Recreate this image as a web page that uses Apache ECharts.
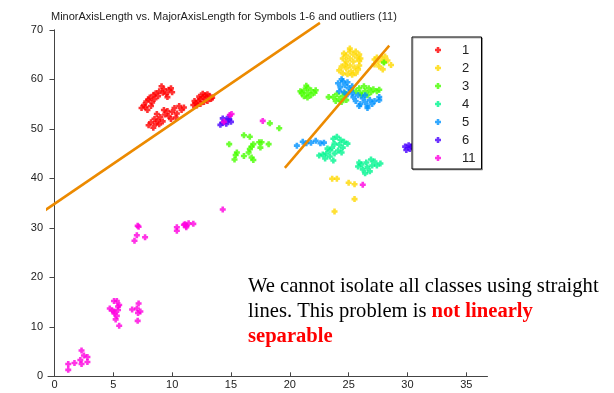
<!DOCTYPE html>
<html>
<head>
<meta charset="utf-8">
<script src="https://cdn.jsdelivr.net/npm/echarts@6/dist/echarts.min.js"></script>
<style>
  html, body { margin: 0; padding: 0; background: #fff; }
  #chart { width: 614px; height: 393px; }
</style>
</head>
<body>
<div id="chart"></div>
<script>
// class labels and their colours (hsv-like map)
var classNames = ["1", "2", "3", "4", "5", "6", "11"];
var classColors = ["#ff0000", "#ffd800", "#49ff00", "#00f590", "#0092ff", "#4900ff", "#ff00e0"];

// [MajorAxisLength, MinorAxisLength]
var class1 = [
  [7.4, 54.2], [7.6, 54.8], [7.8, 55.5], [7.7, 54.4], [8.0, 55.9], [8.1, 56.3], [8.3, 55.3], [8.4, 56.8],
  [8.6, 57.2], [8.5, 56.0], [8.8, 56.6], [8.9, 57.6], [9.1, 58.6], [9.2, 57.3], [9.3, 58.0], [9.5, 57.1],
  [9.7, 57.9], [9.9, 58.2], [10.0, 57.4], [9.6, 56.4], [8.2, 54.6], [7.9, 53.8],
  [8.0, 50.7], [8.2, 51.3], [8.4, 50.2], [8.6, 51.0], [8.5, 52.0], [8.8, 51.7], [9.0, 52.4], [9.2, 51.5],
  [9.4, 52.9], [9.6, 53.6], [9.7, 52.6], [10.0, 53.4], [10.2, 54.2], [10.4, 53.1], [10.6, 54.6], [10.8, 53.8],
  [11.0, 54.3], [10.3, 52.3], [9.9, 52.0], [8.9, 50.9], [8.7, 53.0], [9.3, 53.8],
  [11.8, 54.8], [12.0, 55.2], [12.2, 55.6], [12.4, 56.0], [12.6, 56.4], [12.8, 56.8], [13.0, 57.0], [13.2, 56.6],
  [13.3, 56.0], [13.0, 55.6], [12.7, 55.4], [12.4, 55.0], [12.1, 54.7], [12.6, 57.1], [12.9, 56.2], [12.3, 56.5],
  [13.4, 56.3], [11.9, 55.6]
];
var class2 = [
  [24.5, 64.2], [24.8, 63.6], [24.8, 64.8], [25.1, 65.6], [25.1, 64.2], [25.4, 65.0], [25.4, 63.6], [25.7, 64.4],
  [25.9, 65.0], [25.9, 63.7], [25.1, 66.2], [24.6, 65.2], [26.0, 64.2], [25.6, 65.6],
  [24.2, 61.8], [24.4, 62.6], [24.5, 61.2], [24.8, 62.2], [24.9, 61.0], [25.1, 62.8], [25.2, 61.6], [25.5, 62.4],
  [25.6, 61.2], [25.8, 62.0], [25.9, 62.8], [24.7, 63.0], [25.3, 60.9],
  [27.2, 63.0], [27.5, 63.6], [27.8, 64.2], [28.1, 64.6], [28.0, 63.5], [27.6, 62.6], [28.3, 63.8], [27.4, 64.4],
  [28.6, 62.9], [27.9, 62.0], [27.2, 64.0],
  [23.6, 39.9], [24.0, 39.9], [25.0, 39.1], [25.5, 38.8], [25.5, 35.8], [23.8, 33.3]
];
var class3 = [
  [21.0, 57.2], [21.2, 57.8], [21.2, 56.6], [21.5, 58.3], [21.5, 57.2], [21.5, 56.3], [21.8, 57.8], [21.8, 56.8],
  [22.1, 57.3], [21.4, 58.7], [22.2, 57.8], [20.9, 57.6],
  [23.7, 56.4], [23.9, 55.6], [24.0, 57.0], [24.2, 56.0], [24.4, 55.4], [24.5, 56.6], [24.7, 57.2], [24.8, 55.8],
  [23.3, 56.4],
  [25.6, 57.6], [25.9, 58.2], [26.0, 57.2], [26.3, 58.6], [26.4, 57.6], [26.7, 58.2], [26.9, 57.4], [27.1, 58.0],
  [27.4, 57.6], [27.6, 57.9], [26.1, 56.8], [26.6, 56.8],
  [28.0, 63.4],
  [16.1, 48.7], [16.6, 48.4], [14.85, 46.9], [17.4, 47.3], [17.6, 47.3], [18.2, 46.9], [17.5, 46.2], [16.9, 46.9],
  [16.75, 46.4], [16.6, 45.9], [16.5, 45.2], [15.5, 45.2], [15.4, 44.7], [15.3, 43.8], [16.1, 44.5], [16.75, 44.2],
  [16.9, 43.7], [18.3, 51.1], [19.1, 50.1]
];
var class4 = [
  [23.7, 48.0], [24.0, 48.4], [24.3, 47.8], [24.6, 47.4], [24.9, 47.0], [24.2, 46.8], [23.8, 47.0], [23.6, 46.2],
  [23.4, 45.6], [23.1, 45.0], [22.8, 44.8], [22.5, 44.6], [23.0, 44.0], [23.4, 44.4], [23.8, 45.0], [24.1, 45.6],
  [24.4, 45.2], [23.7, 43.6], [23.2, 46.0], [24.5, 46.2],
  [25.8, 42.4], [26.1, 42.8], [26.2, 41.8], [26.5, 43.2], [26.6, 42.2], [26.8, 41.4], [27.0, 42.6], [27.2, 43.4],
  [27.4, 42.6], [27.7, 43.0], [26.4, 41.0], [26.9, 43.8], [25.9, 43.2]
];
var class5 = [
  [24.1, 59.2], [24.3, 58.4], [24.5, 59.6], [24.7, 58.8], [24.9, 59.4], [25.0, 58.2], [24.2, 57.6], [24.6, 57.4],
  [24.9, 57.0], [25.2, 57.8], [24.4, 60.0], [25.3, 58.6],
  [25.4, 56.4], [25.6, 55.6], [25.8, 56.8], [26.0, 55.0], [26.2, 56.2], [26.4, 55.4], [26.6, 54.6], [26.8, 55.8],
  [27.0, 55.0], [27.2, 55.6], [26.4, 56.8], [25.9, 54.6], [26.6, 54.2], [27.6, 55.8], [27.6, 56.4], [25.3, 57.2],
  [20.6, 46.6], [21.1, 47.4], [21.4, 47.1], [21.8, 47.2], [22.2, 47.6], [22.6, 47.1], [22.9, 47.2]
];
var class6 = [
  [14.1, 50.8], [14.3, 51.2], [14.6, 51.6], [14.85, 51.9], [15.0, 51.4], [14.6, 51.0], [14.3, 52.1], [14.8, 52.4],
  [29.8, 46.4], [30.1, 46.7], [29.9, 45.7], [30.2, 45.9], [30.3, 46.4]
];
var class11 = [
  [1.17, 1.3], [1.17, 2.5], [1.7, 2.7], [2.2, 3.3], [2.3, 5.2], [2.5, 4.2], [2.8, 3.9], [2.3, 2.5], [2.8, 2.9],
  [5.06, 15.2], [5.3, 15.2], [4.7, 13.7], [4.9, 13.3], [5.1, 12.7], [5.3, 12.2], [5.4, 14.1], [5.5, 14.4],
  [5.2, 11.5], [5.5, 10.2], [5.06, 13.1], [5.4, 13.4],
  [6.6, 13.5], [7.0, 13.7], [7.15, 14.7], [7.1, 12.8], [7.3, 13.1], [7.07, 11.2],
  [7.07, 30.4], [7.15, 30.2], [7.0, 28.5], [6.8, 27.4], [7.7, 28.1],
  [10.4, 30.1], [10.4, 29.4], [11.0, 30.6], [11.2, 30.4], [11.4, 30.9], [11.2, 30.1], [11.8, 30.8], [11.1, 30.7],
  [14.3, 33.7],
  [14.9, 52.8], [15.05, 53.0], [14.4, 51.4], [17.7, 51.6], [26.2, 38.7]
];
var classData = [class1, class2, class3, class4, class5, class6, class11];

// hand drawn separating lines
var line1 = [[-1.32, 32.7], [22.56, 71.4]];
var line2 = [[19.58, 42.1], [28.45, 66.8]];

var xTicks = [0, 5, 10, 15, 20, 25, 30, 35];

// chunky plus marker
var plusIcon = "path://M2,0 L5,0 L5,2 L7,2 L7,5 L5,5 L5,7 L2,7 L2,5 L0,5 L0,2 L2,2 Z";

var myChart = echarts.init(document.getElementById("chart"));

var series = classData.map(function (d, i) {
  return {
    name: classNames[i],
    type: "scatter",
    data: d,
    symbol: plusIcon,
    symbolSize: 6,
    itemStyle: { color: classColors[i] },
    animation: false
  };
});
[line1, line2].forEach(function (l) {
  series.push({
    type: "line",
    data: l,
    symbol: "none",
    clip: false,
    lineStyle: { color: "#ec8a00", width: 2.5 },
    z: 3,
    animation: false
  });
});

var option = {
  animation: false,
  title: {
    text: "MinorAxisLength vs. MajorAxisLength for Symbols 1-6 and outliers (11)",
    left: 46,
    top: 6.5,
    textStyle: { fontFamily: "Liberation Sans", fontSize: 11, fontWeight: "normal", color: "#222" }
  },
  legend: {
    data: classNames,
    orient: "vertical",
    left: 412,
    top: 37,
    icon: plusIcon,
    itemWidth: 38,
    itemHeight: 6,
    itemGap: 0,
    padding: [4, 6, 2, 23],
    borderColor: "#000",
    borderWidth: 1,
    backgroundColor: "#fff",
    shadowColor: "rgba(0,0,0,0.3)",
    shadowOffsetX: 1,
    shadowOffsetY: 1,
    textStyle: { fontFamily: "Liberation Sans", fontSize: 13, lineHeight: 18, color: "#222" }
  },
  grid: { left: 48, right: 126.5, top: 29.8, bottom: 16.7 },
  xAxis: {
    type: "value",
    min: -0.55,
    max: 36.8,
    splitLine: { show: false },
    axisLine: { onZero: false, lineStyle: { color: "#444" } },
    axisTick: { inside: true, length: 4, customValues: xTicks, lineStyle: { color: "#444" } },
    axisLabel: { customValues: xTicks, margin: 3, fontFamily: "Liberation Sans", fontSize: 11, color: "#222" }
  },
  yAxis: {
    type: "value",
    min: 0,
    max: 70,
    interval: 10,
    splitLine: { show: false },
    axisLine: { show: true, lineStyle: { color: "#444" } },
    axisTick: { show: true, length: 5, lineStyle: { color: "#444" } },
    axisLabel: { margin: 5, fontFamily: "Liberation Sans", fontSize: 11, color: "#222" }
  },
  graphic: [
    {
      type: "text",
      left: 248,
      top: 274,
      style: {
        text: "We cannot isolate all classes using straight\nlines. This problem is {b|not linearly}\n{b|separable}",
        font: "20.6px 'Liberation Serif'",
        fill: "#000",
        lineHeight: 25,
        rich: {
          b: { fontFamily: "Liberation Serif", fontSize: 20.6, fontWeight: "bold", fill: "#ff0000", lineHeight: 25 }
        }
      }
    }
  ],
  series: series
};
myChart.setOption(option);
</script>
</body>
</html>
